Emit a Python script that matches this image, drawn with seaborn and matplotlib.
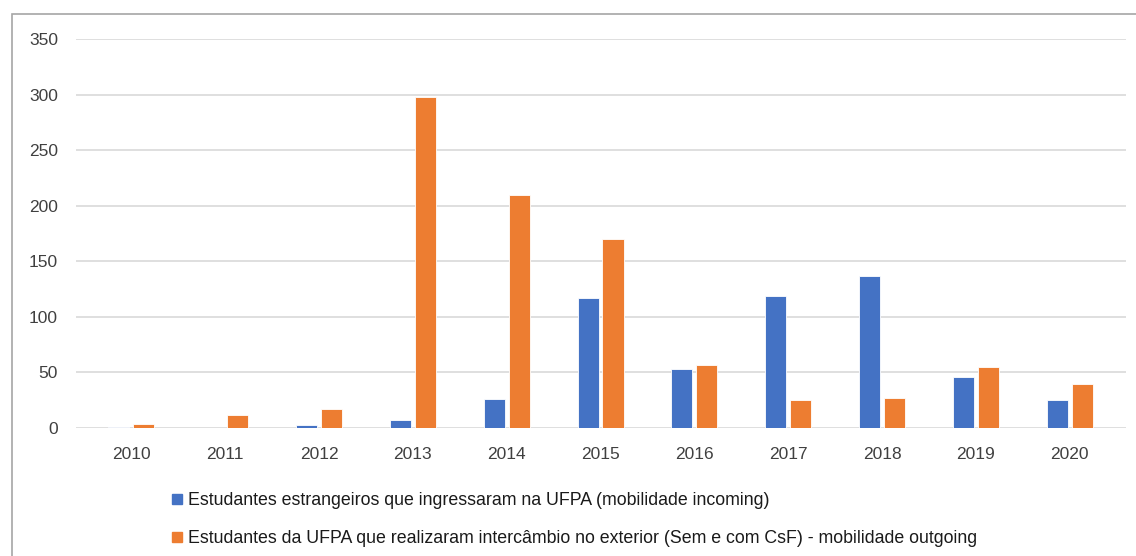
import numpy as np
import pandas as pd
import matplotlib
matplotlib.use("Agg")
import matplotlib.pyplot as plt
import seaborn as sns
from matplotlib.patches import Rectangle
from matplotlib.lines import Line2D

years = ["2010", "2011", "2012", "2013", "2014", "2015", "2016", "2017", "2018", "2019", "2020"]
incoming = [1, 0, 3, 7, 26, 117, 53, 119, 137, 46, 25]
outgoing = [4, 12, 17, 298, 210, 170, 57, 25, 27, 55, 40]
series_names = [
    "Estudantes estrangeiros que ingressaram na UFPA (mobilidade incoming)",
    "Estudantes da UFPA que realizaram intercâmbio no exterior (Sem e com CsF) - mobilidade outgoing",
]
colors = ["#4472C4", "#ED7D31"]
yticks = [0, 50, 100, 150, 200, 250, 300, 350]

df = pd.DataFrame({
    "ano": years * 2,
    "valor": incoming + outgoing,
    "serie": [series_names[0]] * len(years) + [series_names[1]] * len(years),
})

sns.set_theme(style="white")
plt.rcParams["font.family"] = ["Liberation Sans", "DejaVu Sans"]

W, H = 1136, 556
fig = plt.figure(figsize=(W / 100, H / 100), dpi=100)
ax = fig.add_axes([76 / W, 1 - 428 / H, (1126 - 76) / W, (428 - 39) / H])

sns.barplot(data=df, x="ano", y="valor", hue="serie", palette=colors,
            saturation=1, width=0.53, gap=0.15, ax=ax, legend=False,
            edgecolor="white", linewidth=0.6)

ax.set_ylim(0, 350)
ax.set_yticks(yticks)
ax.set_xlim(-0.59, len(years) - 1 + 0.6)
ax.yaxis.grid(True, color="#D9D9D9", linewidth=1.2)
ax.set_axisbelow(True)
for s in ax.spines.values():
    s.set_visible(False)
ax.tick_params(axis="both", length=0, labelsize=12.5, colors="#404040")
ax.tick_params(axis="y", pad=13)
ax.tick_params(axis="x", pad=14)
ax.set_xlabel("")
ax.set_ylabel("")

# outer chart frame (cut off at right/bottom like the source)
fig.patches.append(Rectangle((12 / W, -0.05), 1.2, 1 - 14 / H + 0.05,
                             transform=fig.transFigure, fill=False,
                             edgecolor="#A6A6A6", linewidth=1.2))

handles = [Line2D([], [], marker="s", linestyle="", markersize=7,
                  markerfacecolor=c, markeredgecolor=c) for c in colors]
fig.legend(handles, series_names, loc="upper left",
           bbox_to_anchor=(152 / W, 1 - 476 / H), frameon=False,
           fontsize=12.8, handletextpad=0.1, labelspacing=1.2,
           handlelength=1.0, labelcolor="#1a1a1a")

fig.savefig("out.png", dpi=100)
